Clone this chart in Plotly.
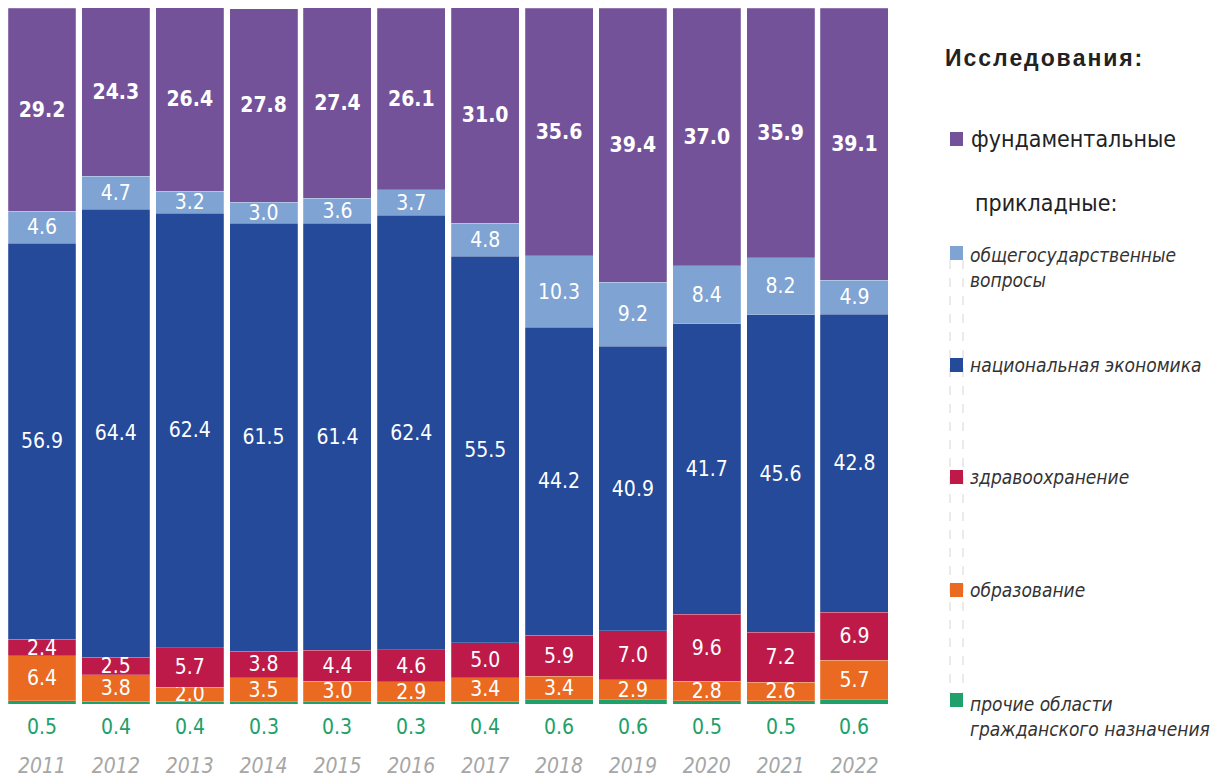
import plotly.graph_objects as go

years = ["2011", "2012", "2013", "2014", "2015", "2016", "2017", "2018", "2019", "2020", "2021", "2022"]
other = [0.5, 0.4, 0.4, 0.3, 0.3, 0.3, 0.4, 0.6, 0.6, 0.5, 0.5, 0.6]
education = [6.4, 3.8, 2.0, 3.5, 3.0, 2.9, 3.4, 3.4, 2.9, 2.8, 2.6, 5.7]
health = [2.4, 2.5, 5.7, 3.8, 4.4, 4.6, 5.0, 5.9, 7.0, 9.6, 7.2, 6.9]
economy = [56.9, 64.4, 62.4, 61.5, 61.4, 62.4, 55.5, 44.2, 40.9, 41.7, 45.6, 42.8]
general = [4.6, 4.7, 3.2, 3.0, 3.6, 3.7, 4.8, 10.3, 9.2, 8.4, 8.2, 4.9]
fundamental = [29.2, 24.3, 26.4, 27.8, 27.4, 26.1, 31.0, 35.6, 39.4, 37.0, 35.9, 39.1]

C_FUND = "#74529A"
C_GEN = "#7FA3D3"
C_ECO = "#244A99"
C_HEA = "#BD1A4A"
C_EDU = "#EA6A22"
C_OTH = "#20A06A"

COND = "DejaVu Sans Condensed, Liberation Sans Narrow, Liberation Sans, sans-serif"
WIDE = "Liberation Sans, Arial, sans-serif"

# page offset (browser body margin)
OFF = 8
W, H = 1224 - OFF, 780 - OFF
PL, PR = 0, 886          # plot area in figure px (x)
PT, PB = 0, 696          # plot area in figure px (y)
SLOT = 73.86
R0 = -(42 - OFF - PL) / SLOT
R1 = R0 + (PR - PL) / SLOT


def px(x):  # screen px -> paper
    return (x - OFF - PL) / (PR - PL)


def py(y):
    return (PB + OFF - y) / (PB - PT)


xi = list(range(len(years)))

fig = go.Figure()

series = [
    ("прочие области гражданского назначения", other, C_OTH, False, False),
    ("образование", education, C_EDU, True, False),
    ("здравоохранение", health, C_HEA, True, False),
    ("национальная экономика", economy, C_ECO, True, False),
    ("общегосударственные вопросы", general, C_GEN, True, False),
    ("фундаментальные", fundamental, C_FUND, True, True),
]

for name, vals, col, show, bold in series:
    fig.add_trace(go.Bar(
        x=xi, y=vals, name=name,
        marker=dict(color=col, line=dict(width=0.6, color="rgba(255,255,255,0.35)")),
        text=[f"{v:.1f}" for v in vals] if show else None,
        texttemplate=("<b>%{text}</b>" if bold else "%{text}") if show else None,
        textposition="inside" if show else "none",
        insidetextanchor="middle",
        textangle=0,
        constraintext="none",
        textfont=dict(color="white", size=21, family=COND),
        hovertemplate=name + ": %{y}<extra></extra>",
    ))

annotations = []
for i, v in zip(xi, other):
    annotations.append(dict(
        x=i, y=0, xref="x", yref="y", text=f"{v:.1f}", showarrow=False,
        yanchor="middle", yshift=-23, font=dict(color=C_OTH, size=21, family=COND),
    ))

# Legend (custom)
annotations.append(dict(
    x=px(944), y=py(58), xref="paper", yref="paper", xanchor="left", yanchor="middle",
    text="<b>" + "&#8202;".join("Исследования:") + "</b>", showarrow=False, borderpad=0,
    font=dict(color="#222222", size=23, family=WIDE),
))
annotations.append(dict(
    x=px(970), y=py(139), xref="paper", yref="paper", xanchor="left", yanchor="middle",
    text="фундаментальные", showarrow=False, borderpad=0,
    font=dict(color="#222222", size=23, family=COND),
))
annotations.append(dict(
    x=px(974), y=py(203), xref="paper", yref="paper", xanchor="left", yanchor="middle",
    text="прикладные:", showarrow=False, borderpad=0,
    font=dict(color="#222222", size=23, family=COND),
))
leg_items = [
    ("<i>общегосударственные</i><br><i>вопросы</i>", 253, C_GEN, 267),
    ("<i>национальная экономика</i>", 365, C_ECO, 365),
    ("<i>здравоохранение</i>", 477, C_HEA, 477),
    ("<i>образование</i>", 590, C_EDU, 590),
    ("<i>прочие области</i><br><i>гражданского назначения</i>", 700, C_OTH, 716),
]
shapes = []
shapes.append(dict(type="rect", xref="paper", yref="paper",
                   x0=px(950), x1=px(963), y0=py(146), y1=py(132),
                   fillcolor=C_FUND, line=dict(width=0)))
for xx in (950, 963):
    shapes.append(dict(type="line", xref="paper", yref="paper",
                       x0=px(xx), x1=px(xx), y0=py(260), y1=py(693),
                       line=dict(color="#d6d6d6", width=1, dash="dash")))
for txt, yc, col, ytxt in leg_items:
    shapes.append(dict(type="rect", xref="paper", yref="paper",
                       x0=px(950), x1=px(963), y0=py(yc + 7), y1=py(yc - 7),
                       fillcolor=col, line=dict(width=0)))
    annotations.append(dict(
        x=px(969), y=py(ytxt), xref="paper", yref="paper", xanchor="left", yanchor="middle",
        text=txt, showarrow=False, align="left", borderpad=0,
        font=dict(color="#333333", size=19, family=COND),
    ))

fig.update_layout(
    width=W, height=H,
    barmode="stack",
    bargap=0.08,
    showlegend=False,
    paper_bgcolor="white", plot_bgcolor="white",
    margin=dict(l=PL, r=W - PR, t=PT, b=H - PB, pad=0, autoexpand=False),
    uniformtext=dict(mode="show", minsize=21),
    annotations=annotations,
    shapes=shapes,
    font=dict(family=COND),
)
fig.update_xaxes(
    range=[R0, R1],
    tickmode="array", tickvals=xi, ticktext=["<i>" + y + "</i>" for y in years],
    showgrid=False, zeroline=False, showline=False, ticks="",
    tickfont=dict(color="#A6A6A6", size=21, family=COND),
    ticklabelstandoff=47, automargin=False,
)
fig.update_yaxes(range=[0, 100], visible=False, fixedrange=True)

fig.write_html("out.html")
